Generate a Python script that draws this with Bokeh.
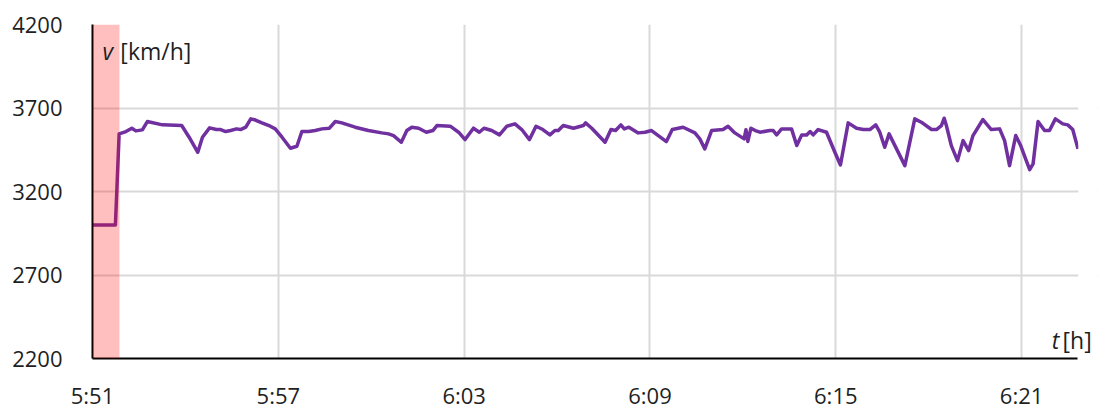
from bokeh.plotting import figure
from bokeh.models import Range1d, FixedTicker, BoxAnnotation, Label
from bokeh.embed import file_html
from bokeh.resources import INLINE

# time in minutes after 5:51, speed in km/h
t_min = [0, 0.74, 0.86, 1.08, 1.27, 1.40, 1.61, 1.77, 2.26, 2.88,
         3.12, 3.40, 3.55, 3.78, 4.00, 4.14, 4.30, 4.46, 4.65, 4.78,
         4.95, 5.11, 5.26, 5.47, 5.74, 5.90, 6.12, 6.39, 6.60, 6.76,
         6.98, 7.19, 7.41, 7.65, 7.84, 8.05, 8.48, 8.91, 9.34, 9.56,
         9.72, 9.97, 10.15, 10.31, 10.53, 10.78, 10.99, 11.12, 11.55, 11.82,
         12.03, 12.30, 12.49, 12.64, 12.89, 13.14, 13.38, 13.64, 13.86, 14.11,
         14.32, 14.54, 14.77, 14.93, 15.04, 15.20, 15.53, 15.85, 15.92, 16.12,
         16.55, 16.74, 16.89, 17.06, 17.17, 17.32, 17.62, 17.84, 18.05, 18.53,
         18.72, 19.07, 19.45, 19.61, 19.77, 19.99, 20.36, 20.52, 20.74, 21.04,
         21.10, 21.16, 21.26, 21.40, 21.55, 21.87, 21.98, 22.09, 22.25, 22.57,
         22.74, 22.90, 23.06, 23.17, 23.27, 23.43, 23.70, 23.97, 24.15, 24.40,
         24.67, 24.89, 25.10, 25.29, 25.42, 25.58, 25.72, 26.23, 26.55, 26.76,
         27.09, 27.25, 27.41, 27.50, 27.57, 27.73, 27.93, 28.11, 28.29, 28.43,
         28.75, 29.02, 29.29, 29.45, 29.61, 29.81, 29.97, 30.15, 30.26, 30.37,
         30.53, 30.74, 30.90, 31.09, 31.33, 31.49, 31.65, 31.82]

speed = [3000, 3000, 3545, 3559, 3579, 3563, 3569, 3619, 3599, 3595,
         3525, 3435, 3525, 3581, 3571, 3571, 3559, 3565, 3575, 3571,
         3585, 3635, 3628, 3611, 3591, 3575, 3525, 3459, 3471, 3559,
         3559, 3565, 3575, 3579, 3619, 3611, 3585, 3565, 3551, 3545,
         3535, 3495, 3565, 3585, 3579, 3555, 3565, 3595, 3591, 3555,
         3511, 3579, 3555, 3579, 3565, 3539, 3591, 3605, 3571, 3511,
         3591, 3571, 3539, 3565, 3565, 3595, 3579, 3595, 3611, 3579,
         3495, 3571, 3565, 3599, 3575, 3585, 3551, 3555, 3565, 3499,
         3571, 3585, 3551, 3515, 3455, 3565, 3571, 3591, 3551, 3515,
         3570, 3500, 3579, 3565, 3555, 3565, 3565, 3539, 3575, 3575,
         3475, 3539, 3539, 3559, 3539, 3571, 3555, 3435, 3359, 3611,
         3579, 3571, 3571, 3599, 3555, 3465, 3545, 3355, 3635, 3615,
         3571, 3571, 3595, 3639, 3595, 3475, 3385, 3505, 3445, 3535,
         3631, 3571, 3575, 3505, 3355, 3535, 3475, 3385, 3331, 3365,
         3619, 3565, 3565, 3635, 3605, 3599, 3571, 3455]

x_ticks = [0, 6, 12, 18, 24, 30]
x_tick_labels = ["5:51", "5:57", "6:03", "6:09", "6:15", "6:21"]
y_ticks = [2200, 2700, 3200, 3700, 4200]
band_start = 0
band_end = 0.87
x_end = 31.8          # end of the time axis
x_view_end = 32.45    # visible room to the right for the "t [h]" caption

FONT = "Open Sans"
TXT = "#1f1f1f"

p = figure(width=1101, height=412, output_backend="svg", toolbar_location=None,
           x_range=Range1d(0, x_view_end), y_range=Range1d(2200, 4200),
           min_border_left=92, min_border_right=4, min_border_top=24, min_border_bottom=54)
p.outline_line_color = None
p.background_fill_color = "white"
p.border_fill_color = "white"

p.line(t_min, speed, line_color="#7030A0", line_width=3.5, line_join="round")

p.add_layout(BoxAnnotation(left=band_start, right=band_end, fill_color="red",
                           fill_alpha=0.25, line_color=None))
# blank out the gridlines beyond the end of the time axis
p.add_layout(BoxAnnotation(left=x_end + 0.03, fill_color="white",
                           fill_alpha=1.0, line_color=None))

for ax, ticks in ((p.xaxis[0], x_ticks), (p.yaxis[0], y_ticks)):
    ax.ticker = FixedTicker(ticks=ticks)
    ax.major_tick_line_color = None
    ax.minor_tick_line_color = None
    ax.axis_line_color = "black"
    ax.axis_line_width = 2
    ax.major_label_text_font = FONT
    ax.major_label_text_font_size = "22px"
    ax.major_label_text_color = TXT

p.xaxis.bounds = (0, x_end)
p.xaxis.major_label_overrides = {k: v for k, v in zip(x_ticks, x_tick_labels)}
p.xaxis.major_label_standoff = 15
p.yaxis.major_label_standoff = 24

p.xgrid.ticker = FixedTicker(ticks=x_ticks[1:])
p.ygrid.ticker = FixedTicker(ticks=y_ticks)
for g in (p.xgrid[0], p.ygrid[0]):
    g.grid_line_color = "#D9D9D9"
    g.grid_line_width = 2

def lab(x, y, text, italic=False):
    p.add_layout(Label(x=x, y=y, text=text, text_font=FONT, text_font_size="23px",
                       text_color=TXT, text_baseline="alphabetic",
                       text_font_style="italic" if italic else "normal"))

lab(0.32, 4044, "v", True)
lab(0.90, 4044, "[km/h]")
lab(30.97, 2308, "t", True)
lab(31.32, 2308, "[h]")

open("out.html", "w").write(file_html(p, INLINE))
